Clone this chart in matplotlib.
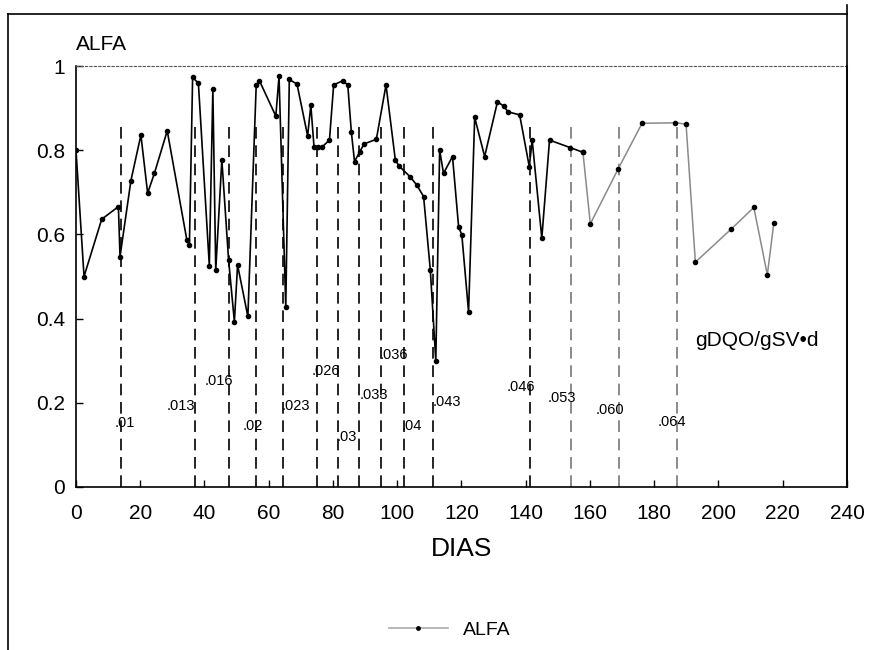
import numpy as np
import matplotlib.pyplot as plt
from matplotlib.lines import Line2D

plt.rcParams['font.family'] = ['Liberation Sans', 'DejaVu Sans']

# serie ALFA vs dias
dias = [0, 2.5, 8, 13.2, 13.7, 17.1, 20.2, 22.3, 24.4, 28.4, 34.5, 35.3, 36.3,
        38.1, 41.5, 42.6, 43.5, 45.4, 47.5, 49.3, 50.3, 53.5, 56.1, 57.1, 62.2,
        63.2, 65.3, 66.4, 68.8, 72.1, 73.1, 74.1, 75.3, 76.5, 78.9, 80.2, 83.0,
        84.6, 85.7, 86.7, 88.3, 89.7, 93.5, 96.5, 99.4, 100.6, 104.0, 106.1,
        108.2, 110.3, 112.0, 113.2, 114.4, 117.2, 119.1, 120.1, 122.2, 124.1,
        127.2, 131.2, 133.1, 134.5, 138.1, 141.1, 142.0, 145.0, 147.4, 153.9,
        157.8, 160.1, 168.8, 176.2, 186.6, 189.9, 192.8, 204.0, 211.0, 215.2,
        217.2]
alfa = [0.80, 0.50, 0.636, 0.666, 0.547, 0.728, 0.836, 0.698, 0.745, 0.846,
        0.587, 0.575, 0.973, 0.959, 0.526, 0.945, 0.515, 0.777, 0.539, 0.393,
        0.527, 0.405, 0.955, 0.965, 0.881, 0.976, 0.427, 0.968, 0.957, 0.834,
        0.907, 0.807, 0.807, 0.807, 0.824, 0.955, 0.965, 0.955, 0.844, 0.773,
        0.796, 0.815, 0.826, 0.955, 0.777, 0.762, 0.737, 0.717, 0.69, 0.515,
        0.30, 0.80, 0.745, 0.785, 0.618, 0.599, 0.416, 0.878, 0.785, 0.915,
        0.905, 0.891, 0.884, 0.761, 0.824, 0.591, 0.824, 0.806, 0.795, 0.625,
        0.756, 0.864, 0.865, 0.862, 0.534, 0.613, 0.664, 0.504, 0.626]

# cambios de carga organica (gDQO/gSV.d)
cambio_dias = [14, 37, 47.5, 56, 64.5, 75, 81.6, 88, 95, 102, 111, 141.4, 154, 169, 187]
cargas = ['.01', '.013', '.016', '.02', '.023', '.026', '.03', '.033', '.036',
          '.04', '.043', '.046', '.053', '.060', '.064']
carga_y = [0.152, 0.192, 0.252, 0.145, 0.192, 0.275, 0.119, 0.218, 0.313,
           0.145, 0.202, 0.237, 0.211, 0.183, 0.154]
carga_dx = [1.2, -4.4, -3.1, -0.9, 4.0, 2.8, 2.8, 4.7, 4.0, 2.5, 4.4, -2.8, -2.8, -2.8, -1.6]

xticks = list(range(0, 241, 20))
yticks = [0, 0.2, 0.4, 0.6, 0.8, 1]
ylabels = ['0', '0.2', '0.4', '0.6', '0.8', '1']

fig = plt.figure(figsize=(8.79, 6.5), dpi=100)
ax = fig.add_axes([76 / 879, 163 / 650, 771 / 879, 421 / 650])

# lineas de cambio de carga
for d, lab, yy, dx in zip(cambio_dias, cargas, carga_y, carga_dx):
    col = 'black' if d < 150 else '#777777'
    ax.plot([d, d], [0, 0.87], color=col, lw=1.2, dashes=(7, 4))
    ax.text(d + dx, yy, lab, ha='center', va='center', fontsize=10.5, color='black')

k = dias.index(157.8) + 1
ax.plot(dias[:k], alfa[:k], color='black', lw=1.2, marker='o', ms=3)
ax.plot(dias[k - 1:], alfa[k - 1:], color='#8a8a8a', lw=1.1, marker='o', ms=3,
        mfc='black', mec='black')

ax.set_xlim(0, 240)
ax.set_ylim(0, 1)
ax.set_xticks(xticks)
ax.set_yticks(yticks)
ax.set_yticklabels(ylabels)
ax.tick_params(direction='in', length=5, width=1)
ax.tick_params(axis='y', labelsize=15, pad=8)
ax.tick_params(axis='x', labelsize=15, pad=12)
for t in ax.get_xticklabels():
    t.set_family(['Liberation Sans Narrow', 'Liberation Sans', 'DejaVu Sans'])
ax.spines['top'].set_linestyle((0, (2, 2)))
ax.spines['top'].set_linewidth(0.8)
ax.spines['top'].set_color('#555555')
for s in ['left', 'bottom', 'right']:
    ax.spines[s].set_linewidth(1.2)

ax.set_xlabel('DIAS', fontsize=19, labelpad=10,
              family=['Liberation Sans Narrow', 'Liberation Sans', 'DejaVu Sans'])
fig.text(76 / 879, 1 - 44 / 650, 'ALFA', fontsize=15, va='center', ha='left')
ax.text(192.8, 0.347, 'gDQO/gSV\u2022d', fontsize=15, va='center', ha='left')

# marco de la figura
fig.add_artist(Line2D([8 / 879, 8 / 879], [0, 1 - 14 / 650], color='black', lw=1.2))
fig.add_artist(Line2D([8 / 879, 847 / 879], [1 - 14 / 650, 1 - 14 / 650], color='black', lw=1.2))
fig.add_artist(Line2D([847 / 879, 847 / 879], [1 - 487 / 650, 1 - 5 / 650], color='black', lw=1.2))

h = Line2D([], [], color='#aaaaaa', lw=1.2, marker='o', ms=2.5, mfc='black', mec='black')
fig.legend([h], ['ALFA'], loc='center', bbox_to_anchor=(450 / 879, 1 - 630 / 650),
           frameon=False, fontsize=14, handlelength=3,
           prop={'family': ['Liberation Sans Narrow', 'Liberation Sans', 'DejaVu Sans'], 'size': 14})

fig.savefig('out.png', dpi=100)
